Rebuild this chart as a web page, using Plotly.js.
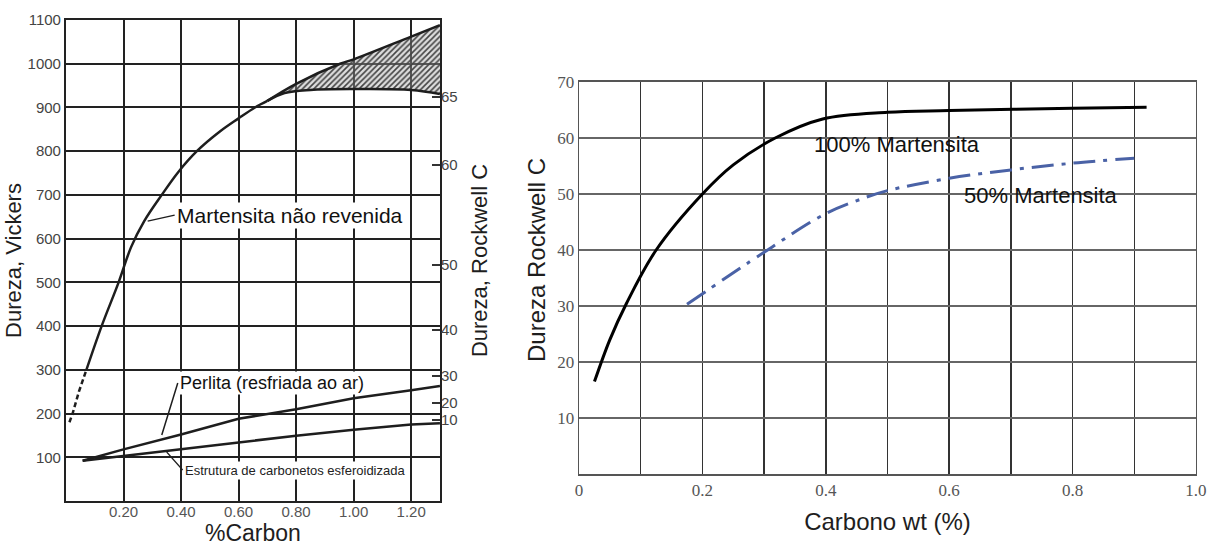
<!DOCTYPE html>
<html>
<head>
<meta charset="utf-8">
<script src="https://cdn.plot.ly/plotly-3.0.1.min.js"></script>
<style>
  html, body { margin: 0; padding: 0; background: #fff; }
  #chart { width: 1217px; height: 548px; }
</style>
</head>
<body>
<div id="chart"></div>
<script>
// ---- Left panel: Vickers hardness vs % carbon ----
const carbonTicks = [0.2, 0.4, 0.6, 0.8, 1.0, 1.2];
const carbonTickText = ['0.20', '0.40', '0.60', '0.80', '1.00', '1.20'];
const vickersTicks = [100, 200, 300, 400, 500, 600, 700, 800, 900, 1000, 1100];
// Rockwell C scale positions expressed on the Vickers axis
const rockwellOnVickers = [185, 224, 286, 391, 540, 768, 924];
const rockwellLabels = ['10', '20', '30', '40', '50', '60', '65'];

// untempered martensite: extrapolated (dashed) start, then measured curve
const martDashC = [0.012, 0.023, 0.045, 0.071];
const martDashHV = [180, 200, 250, 300];
const martC = [0.071, 0.124, 0.183, 0.226, 0.272, 0.333, 0.39, 0.455, 0.535, 0.60, 0.657, 0.70];
const martHV = [300, 400, 500, 580, 640, 700, 752, 800, 845, 875, 900, 915];
// scatter band at high carbon (lower and upper limits)
const bandLowC = [0.70, 0.76, 0.85, 1.0, 1.2, 1.3];
const bandLowHV = [915, 933, 940, 942, 940, 931];
const bandHighC = [0.70, 0.80, 0.953, 1.0, 1.2, 1.3];
const bandHighHV = [915, 954, 1000, 1010, 1062, 1088];

// air-cooled pearlite and spheroidized carbide structure
const perlC = [0.058, 0.2, 0.4, 0.6, 0.8, 1.0, 1.2, 1.3];
const perlHV = [92, 118, 152, 188, 210, 235, 253, 263];
const esfC = [0.058, 0.2, 0.4, 0.6, 0.8, 1.0, 1.2, 1.3];
const esfHV = [92, 103, 120, 134, 149, 163, 175, 178];

// ---- Right panel: Rockwell C vs carbon wt % ----
const wtTicks = [0, 0.2, 0.4, 0.6, 0.8, 1.0];
const wtTickText = ['0', '0.2', '0.4', '0.6', '0.8', '1.0'];
const hrcTicks = [10, 20, 30, 40, 50, 60, 70];
const m100C = [0.025, 0.05, 0.077, 0.125, 0.2, 0.25, 0.318, 0.395, 0.5, 0.6, 0.8, 0.92];
const m100HRC = [16.5, 24, 30.5, 40, 50, 55.2, 60, 63.4, 64.6, 64.9, 65.3, 65.5];
const m50C = [0.175, 0.3, 0.4, 0.46, 0.5, 0.6, 0.7, 0.8, 0.9];
const m50HRC = [30.3, 39.6, 46.5, 49.2, 50.6, 52.8, 54.3, 55.5, 56.4];

const ink = '#1e1e1e';
const sans = 'Liberation Sans, Arial, sans-serif';
const serif = 'Liberation Serif, Times New Roman, serif';

const traces = [
  { x: martDashC, y: martDashHV, mode: 'lines', xaxis: 'x', yaxis: 'y',
    line: { color: ink, width: 2.5, dash: '5px,3px' }, hoverinfo: 'skip' },
  { x: martC, y: martHV, mode: 'lines', xaxis: 'x', yaxis: 'y',
    line: { color: ink, width: 2.5, shape: 'spline', smoothing: 1 } },
  { x: bandLowC, y: bandLowHV, mode: 'lines', xaxis: 'x', yaxis: 'y',
    line: { color: ink, width: 2.5, shape: 'spline' } },
  { x: bandHighC, y: bandHighHV, mode: 'lines', xaxis: 'x', yaxis: 'y',
    line: { color: ink, width: 2.5, shape: 'spline' },
    fill: 'tonexty', fillcolor: 'rgba(150,150,150,0.35)',
    fillpattern: { shape: '/', fgcolor: '#444', bgcolor: 'rgba(170,170,170,0.4)', size: 4, solidity: 0.4 } },
  { x: perlC, y: perlHV, mode: 'lines', xaxis: 'x', yaxis: 'y',
    line: { color: ink, width: 2.5 } },
  // same Vickers range on both left-panel axes; this trace carries the Rockwell scale
  { x: esfC, y: esfHV, mode: 'lines', xaxis: 'x', yaxis: 'y2',
    line: { color: ink, width: 2.5 } },
  { x: m100C, y: m100HRC, mode: 'lines', xaxis: 'x2', yaxis: 'y3',
    line: { color: '#000', width: 3, shape: 'spline' } },
  { x: m50C, y: m50HRC, mode: 'lines', xaxis: 'x2', yaxis: 'y3',
    line: { color: '#4a62a6', width: 3, shape: 'spline', dash: '22px,8px,4px,8px' } }
];

const layout = {
  width: 1217, height: 548,
  margin: { l: 0, r: 0, t: 0, b: 0 },
  paper_bgcolor: '#fff', plot_bgcolor: '#fff',
  showlegend: false,
  font: { family: sans, color: ink },
  xaxis: {
    domain: [0.0542, 0.3615], range: [0, 1.3], anchor: 'y',
    tickvals: carbonTicks, ticktext: carbonTickText, ticks: '',
    ticklabelstandoff: -4,
    showgrid: true, gridcolor: '#222', gridwidth: 2,
    showline: true, mirror: true, linecolor: '#222', linewidth: 2,
    zeroline: false, automargin: false,
    tickfont: { family: sans, size: 15, color: '#555' },
    title: { text: '%Carbon', font: { family: sans, size: 23, color: ink }, standoff: 4 }
  },
  yaxis: {
    domain: [0.0858, 0.9635], range: [0, 1100], anchor: 'x',
    tickvals: vickersTicks, ticks: '',
    showgrid: true, gridcolor: '#222', gridwidth: 2,
    showline: true, mirror: true, linecolor: '#222', linewidth: 2,
    zeroline: false, automargin: false,
    tickfont: { family: sans, size: 15, color: '#444' },
    title: { text: 'Dureza, Vickers', font: { family: sans, size: 22, color: ink }, standoff: 0 }
  },
  yaxis2: {
    overlaying: 'y', side: 'right', anchor: 'x', range: [0, 1100],
    tickvals: rockwellOnVickers, ticktext: rockwellLabels,
    ticks: 'inside', ticklen: 8, tickwidth: 1.5, tickcolor: '#333',
    showgrid: false, zeroline: false, showline: false, automargin: false,
    tickfont: { family: sans, size: 15, color: '#444' },
    title: { text: 'Dureza, Rockwell C', font: { family: sans, size: 22, color: ink }, standoff: 14 }
  },
  xaxis2: {
    domain: [0.4758, 0.9827], range: [0, 1.0], anchor: 'y3',
    tickvals: wtTicks, ticktext: wtTickText, ticks: '',
    showgrid: true, gridcolor: '#333', gridwidth: 1.5,
    minor: { dtick: 0.1, tick0: 0, showgrid: true, gridcolor: '#333', gridwidth: 1.5, ticks: '' },
    showline: true, mirror: true, linecolor: '#555', linewidth: 1.5,
    zeroline: false, automargin: false,
    tickfont: { family: serif, size: 17, color: '#555' },
    title: { text: 'Carbono wt (%)', font: { family: sans, size: 24, color: ink }, standoff: 14 }
  },
  yaxis3: {
    domain: [0.135, 0.8504], range: [0, 70], anchor: 'x2',
    tickvals: hrcTicks, ticks: '',
    showgrid: true, gridcolor: '#666', gridwidth: 1.5,
    showline: true, mirror: true, linecolor: '#555', linewidth: 1.5,
    zeroline: false, automargin: false,
    tickfont: { family: serif, size: 17, color: '#555' }
  },
  annotations: [
    { text: 'Dureza Rockwell C', xref: 'paper', yref: 'paper', x: 536 / 1217, y: 1 - 260 / 548,
      textangle: -90, showarrow: false, font: { family: sans, size: 24, color: ink } },
    { text: 'Martensita não revenida', xref: 'x', yref: 'y', x: 0.284, y: 640,
      showarrow: true, arrowhead: 0, arrowwidth: 1.5, arrowcolor: ink, ax: 27, ay: -6,
      xanchor: 'left', bgcolor: '#fff', borderpad: 1,
      font: { family: sans, size: 21, color: '#111' } },
    { text: 'Perlita (resfriada ao ar)', xref: 'x', yref: 'y', x: 0.333, y: 151,
      showarrow: true, arrowhead: 0, arrowwidth: 1.5, arrowcolor: ink, ax: 16, ay: -52,
      xanchor: 'left', bgcolor: '#fff', borderpad: 1,
      font: { family: sans, size: 18, color: '#111' } },
    { text: 'Estrutura de carbonetos esferoidizada', xref: 'x', yref: 'y', x: 0.35, y: 112,
      showarrow: true, arrowhead: 0, arrowwidth: 1.2, arrowcolor: ink, ax: 16, ay: 18,
      xanchor: 'left', bgcolor: '#fff', borderpad: 1,
      font: { family: sans, size: 13, color: '#222' } },
    { text: '100% Martensita', xref: 'x2', yref: 'y3', x: 0.515, y: 58.75,
      showarrow: false, font: { family: sans, size: 22, color: '#111' } },
    { text: '50% Martensita', xref: 'x2', yref: 'y3', x: 0.749, y: 49.8,
      showarrow: false, font: { family: sans, size: 22, color: '#111' } }
  ]
};

Plotly.newPlot('chart', traces, layout, { displayModeBar: false, staticPlot: true });
</script>
</body>
</html>
